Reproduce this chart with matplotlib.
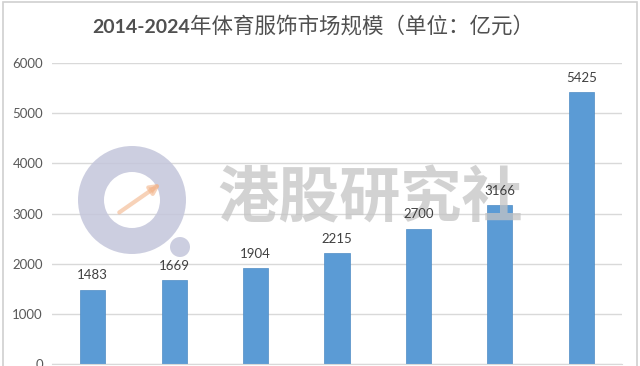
import matplotlib
matplotlib.use("Agg")
import matplotlib.pyplot as plt
from matplotlib.patches import Wedge, Circle, Rectangle

# data (x labels are cropped out in the source picture)
years = ["2014", "2015", "2016", "2017", "2018", "2019", "2024E"]
market_size = [1483, 1669, 1904, 2215, 2700, 3166, 5425]
y_ticks = [0, 1000, 2000, 3000, 4000, 5000, 6000]

bar_color = "#5b9bd5"
grid_color = "#d9d9d9"
num_font = "Lato"
cjk = ["Noto Sans CJK SC", "DejaVu Sans"]

fig = plt.figure(figsize=(6.4, 3.66), dpi=100)
fig.patch.set_facecolor("white")

# light frame round the whole picture
fig.patches.append(Rectangle((0.004, -0.01), 0.992, 1.004, transform=fig.transFigure,
                             fill=False, edgecolor="#d0d0d0", linewidth=1.2))

ax = fig.add_axes([0.08125, 0.00546, 0.890625, 0.8224])
x = range(len(years))
bars = ax.bar(x, market_size, width=0.31, color=bar_color, edgecolor="#4f8cc4",
              linewidth=0.5, zorder=2)

for b, v in zip(bars, market_size):
    ax.annotate(str(v), (b.get_x() + b.get_width() / 2, v), xytext=(0, 6),
                textcoords="offset points", ha="center", va="bottom",
                fontsize=9.5, color="#404040", family=num_font, zorder=4)

ax.set_xlim(-0.5, len(years) - 0.5)
ax.set_ylim(0, 6000)
ax.set_yticks(y_ticks)
ax.set_yticklabels([str(t) for t in y_ticks], family=num_font, fontsize=9.5, color="#595959")
# category labels sit below the crop of the source picture
ax.set_xticks(list(x))
ax.set_xticklabels([])
ax.tick_params(length=0, pad=6.5)
ax.yaxis.grid(True, color=grid_color, linewidth=1.0, zorder=0)
ax.set_axisbelow(True)
for s in ax.spines.values():
    s.set_visible(False)
ax.spines["bottom"].set_visible(True)
ax.spines["bottom"].set_color(grid_color)

# title: bold digits, regular Chinese
fig.text(190 / 640, 1 - 33 / 366, "2014-2024", ha="right", va="baseline",
         fontsize=14, fontweight="bold", color="#505050", family=num_font)
fig.text(190 / 640, 1 - 33 / 366, "年体育服饰市场规模（单位：亿元）", ha="left", va="baseline",
         fontsize=15.5, color="#505050", family=cjk)

# watermark (inside the axes so the value labels stay on top)
ax.add_patch(Wedge((1.32, 1.66), 0.54, 0, 360, width=0.26,
                   transform=fig.dpi_scale_trans, facecolor="#c4c6db",
                   edgecolor="none", alpha=0.85, zorder=1, clip_on=False))
ax.add_patch(Circle((1.80, 1.19), 0.10, transform=fig.dpi_scale_trans,
                    facecolor="#c4c6db", edgecolor="none", alpha=0.85, zorder=1, clip_on=False))
ax.annotate("", xy=(163 / 640, 1 - 182 / 366), xytext=(117 / 640, 1 - 214 / 366),
            xycoords="figure fraction", textcoords="figure fraction",
            arrowprops=dict(arrowstyle="-|>", color="#f3b48a", lw=3, alpha=0.6,
                            mutation_scale=14), zorder=1.5)
ax.text(370 / 640, 1 - 200 / 366, "港股研究社", ha="center", va="center",
        fontsize=44, fontweight="bold", color="#c4c4c4", alpha=0.75,
        family=cjk, transform=fig.transFigure, zorder=3)

fig.savefig("out.png", dpi=100)
